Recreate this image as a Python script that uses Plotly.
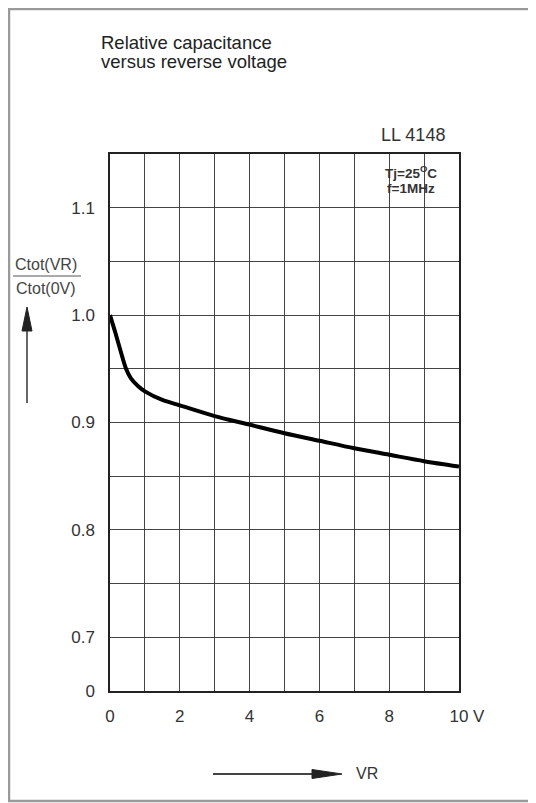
import plotly.graph_objects as go

# ---- data ----
vr = [0, 0.15, 0.3, 0.46, 0.6, 0.8, 1.0, 1.5, 2, 3, 4, 5, 6, 7, 8, 9, 10]
ratio = [1.0, 0.984, 0.967, 0.950, 0.941, 0.934, 0.929, 0.921, 0.916,
         0.906, 0.898, 0.890, 0.883, 0.876, 0.870, 0.864, 0.859]

x_tick_vals = [0, 2, 4, 6, 8, 10]
x_tick_text = ["0", "2", "4", "6", "8", "10"]
y_tick_vals = [0.65, 0.7, 0.8, 0.9, 1.0, 1.1]
y_tick_text = ["0", "0.7", "0.8", "0.9", "1.0", "1.1"]

# page is offset by the 8px body margin, so the figure is 8px smaller
OFF = 8
W, H = 536 - OFF, 803 - OFF
PL, PR, PT, PB = 110, 459, 154, 691          # plot area in page pixels
L, R, T, B = PL - OFF, 536 - PR, PT - OFF, 803 - PB
PW, PH = PR - PL, PB - PT

def px(x):
    return (x - PL) / PW

def py(y):
    return (PB - y) / PH

FONT = "Liberation Sans, Arial, sans-serif"

fig = go.Figure()
fig.add_trace(go.Scatter(x=vr, y=ratio, mode="lines",
                         line=dict(color="black", width=4, shape="spline", smoothing=0.8),
                         hoverinfo="skip", showlegend=False))

grid = dict(showgrid=True, gridcolor="#444", gridwidth=1.2,
            showline=True, linecolor="#222", linewidth=1.5, mirror=True,
            zeroline=False, ticks="outside", tickcolor="rgba(0,0,0,0)",
            tickfont=dict(family=FONT, size=17, color="#333"))

fig.update_xaxes(range=[0, 10], tickmode="array",
                 tickvals=x_tick_vals, ticktext=x_tick_text, ticklen=9, **grid)
fig.update_yaxes(range=[0.65, 1.15], tickmode="array",
                 tickvals=y_tick_vals, ticktext=y_tick_text, ticklen=10, **grid)
fig.update_xaxes(minor=dict(dtick=1, showgrid=True, gridcolor="#444", gridwidth=1.2))
fig.update_yaxes(minor=dict(dtick=0.05, tick0=0.65, showgrid=True, gridcolor="#444", gridwidth=1.2))

def txt(x, y, s, size, color="#333", anchor="center"):
    return dict(x=px(x), y=py(y), xref="paper", yref="paper", xanchor=anchor, yanchor="middle",
                text=s, showarrow=False, font=dict(family=FONT, size=size, color=color))

ann = [
    txt(99, 42, "Relative capacitance", 18.5, "#222", "left"),
    txt(99, 62, "versus reverse voltage", 18.5, "#222", "left"),
    txt(413, 135, "LL 4148", 18),
    txt(411, 172, "<b>Tj=25<sup>O</sup>C</b>", 13.5),
    txt(411, 188, "<b>f=1MHz</b>", 13.5),
    txt(479, 716, "V", 17),
    txt(46, 264, "Ctot(VR)", 16, "#444"),
    txt(46, 288, "Ctot(0V)", 16, "#444"),
    txt(367, 774, "VR", 16),
]

def tri(points):
    d = "M " + " L ".join(f"{px(a)},{py(b)}" for a, b in points) + " Z"
    return dict(type="path", xref="paper", yref="paper", path=d,
                fillcolor="#222", line=dict(color="#222", width=1))

shapes = [
    dict(type="rect", xref="paper", yref="paper", x0=px(9), x1=px(532), y0=py(9), y1=py(801),
         line=dict(color="#9a9a9a", width=2.5), layer="below"),
    dict(type="line", xref="paper", yref="paper", x0=px(13), x1=px(81), y0=py(276), y1=py(276),
         line=dict(color="#555", width=1)),
    # vertical arrow
    dict(type="line", xref="paper", yref="paper", x0=px(27), x1=px(27), y0=py(403), y1=py(325),
         line=dict(color="#333", width=1.5)),
    tri([(27, 307), (22, 331), (32, 331)]),
    # horizontal arrow
    dict(type="line", xref="paper", yref="paper", x0=px(213), x1=px(315), y0=py(774), y1=py(774),
         line=dict(color="#444", width=1.8)),
    tri([(342, 774), (312, 769.5), (312, 778.5)]),
]

fig.update_layout(width=W, height=H, margin=dict(l=L, r=R, t=T, b=B),
                  paper_bgcolor="white", plot_bgcolor="white",
                  annotations=ann, shapes=shapes, showlegend=False)

fig.write_html("out.html")
